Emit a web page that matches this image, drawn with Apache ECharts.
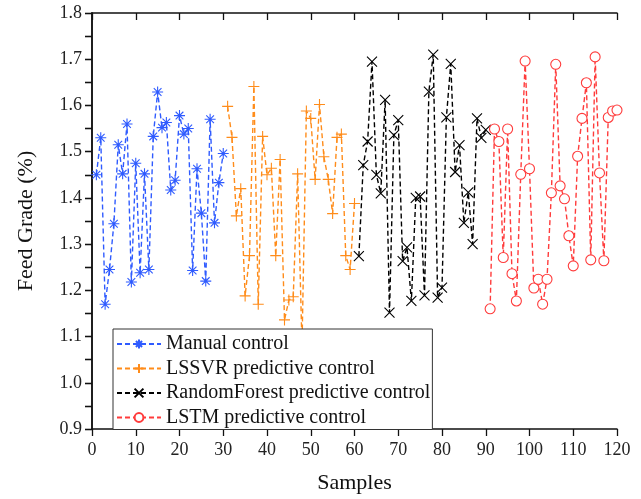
<!DOCTYPE html>
<html>
<head>
<meta charset="utf-8">
<script src="https://cdn.jsdelivr.net/npm/echarts@6/dist/echarts.min.js"></script>
<style>html,body{margin:0;padding:0;background:#fff}#c{width:641px;height:499px}</style>
</head>
<body>
<div id="c"></div>
<script>
var seriesNames = ['Manual control', 'LSSVR predictive control', 'RandomForest predictive control', 'LSTM predictive control'];
var startSamples = [1, 31, 61, 91];
var manual = [1.45,1.53,1.17,1.245,1.344,1.515,1.452,1.56,1.218,1.475,1.238,1.452,1.245,1.533,1.629,1.552,1.563,1.417,1.438,1.578,1.538,1.55,1.243,1.463,1.367,1.22,1.57,1.346,1.433,1.496];
var lssvr = [1.598,1.531,1.361,1.42,1.188,1.275,1.641,1.17,1.533,1.45,1.464,1.275,1.483,1.136,1.179,1.186,1.452,1.08,1.588,1.572,1.44,1.602,1.489,1.44,1.366,1.531,1.538,1.275,1.245,1.388];
var randomForest = [1.274,1.471,1.522,1.695,1.45,1.41,1.612,1.152,1.536,1.568,1.263,1.293,1.177,1.40,1.403,1.189,1.63,1.71,1.184,1.206,1.574,1.69,1.456,1.514,1.346,1.412,1.30,1.572,1.53,1.547];
var lstm = [1.16,1.549,1.522,1.271,1.549,1.236,1.177,1.451,1.696,1.463,1.205,1.224,1.17,1.224,1.411,1.689,1.426,1.398,1.318,1.253,1.49,1.572,1.649,1.266,1.705,1.454,1.264,1.574,1.588,1.59];
var xTicks = [0,10,20,30,40,50,60,70,80,90,100,110,120];
var yTicks = [0.9,1.0,1.1,1.2,1.3,1.4,1.5,1.6,1.7,1.8];

var values = [manual, lssvr, randomForest, lstm];
var colors = ['#2F5BFF', '#FF8C1A', '#000000', '#FF3B3B'];
var symbols = [
  'path://M0,5L10,5M5,0L5,10M1.5,1.5L8.5,8.5M8.5,1.5L1.5,8.5',
  'path://M0,5L10,5M5,0L5,10',
  'path://M0,0L10,10M10,0L0,10',
  'circle'
];
var sizes = [11, 11, 10, 10];
var font = '"Liberation Serif", "Times New Roman", serif';

var series = values.map(function (vals, k) {
  var isCircle = symbols[k] === 'circle';
  return {
    name: seriesNames[k],
    type: 'line',
    xAxisIndex: 0, yAxisIndex: 0,
    data: vals.map(function (v, i) { return [startSamples[k] + i, v]; }),
    symbol: symbols[k],
    symbolSize: sizes[k],
    showAllSymbol: true,
    clip: true,
    lineStyle: { color: colors[k], width: 1.4, type: [5, 3] },
    itemStyle: {
      color: isCircle ? '#ffffff' : colors[k],
      borderColor: colors[k],
      borderWidth: 1.1
    },
    emphasis: { disabled: true }
  };
});

var chart = echarts.init(document.getElementById('c'), null, { renderer: 'canvas' });
chart.setOption({
  animation: false,
  backgroundColor: '#ffffff',
  textStyle: { fontFamily: font },
  grid: { left: 92, right: 24, top: 13, bottom: 65, containLabel: false },
  legend: {
    orient: 'vertical',
    left: 113, top: 329,
    data: seriesNames,
    backgroundColor: '#ffffff',
    borderColor: '#333333',
    borderWidth: 1,
    borderRadius: 0,
    padding: [5, 2, 2, 3],
    itemWidth: 44,
    itemHeight: 11,
    itemGap: 4.5,
    textStyle: { fontFamily: font, fontSize: 20, lineHeight: 20, color: '#111' },
    z: 10
  },
  xAxis: [{
    type: 'value', min: xTicks[0], max: xTicks[xTicks.length - 1], interval: 10,
    position: 'bottom',
    name: 'Samples', nameLocation: 'middle', nameGap: 43,
    nameTextStyle: { fontFamily: font, fontSize: 22, color: '#111' },
    axisLine: { lineStyle: { color: '#111', width: 1.5 } },
    axisTick: { show: true, inside: false, length: 7, lineStyle: { color: '#111', width: 1.3 } },
    axisLabel: { fontFamily: font, fontSize: 18, color: '#222', margin: 12 },
    splitLine: { show: false }
  }, {
    type: 'value', min: xTicks[0], max: xTicks[xTicks.length - 1], interval: 10,
    position: 'top',
    axisLine: { lineStyle: { color: '#111', width: 1.5 } },
    axisTick: { show: true, inside: true, length: 7, lineStyle: { color: '#111', width: 1.3 } },
    axisLabel: { show: false },
    splitLine: { show: false }
  }],
  yAxis: [{
    type: 'value', min: yTicks[0], max: yTicks[yTicks.length - 1], interval: 0.05,
    position: 'left',
    name: 'Feed Grade (%)', nameLocation: 'middle', nameGap: 55, nameRotate: 90,
    nameTextStyle: { fontFamily: font, fontSize: 22, color: '#111' },
    axisLine: { show: true, lineStyle: { color: '#111', width: 1.5 } },
    axisTick: { show: true, inside: false, length: 7, lineStyle: { color: '#111', width: 1.3 } },
    axisLabel: {
      fontFamily: font, fontSize: 18, color: '#222', margin: 10,
      formatter: function (v) {
        var r = Math.round(v * 100);
        return r % 10 === 0 ? (r / 100).toFixed(1) : '';
      }
    },
    splitLine: { show: false }
  }, {
    type: 'value', min: yTicks[0], max: yTicks[yTicks.length - 1], interval: 0.05,
    position: 'right',
    axisLine: { show: true, lineStyle: { color: '#111', width: 1.5 } },
    axisTick: { show: true, inside: true, length: 7, lineStyle: { color: '#111', width: 1.3 } },
    axisLabel: { show: false },
    splitLine: { show: false }
  }],
  series: series
});
</script>
</body>
</html>
